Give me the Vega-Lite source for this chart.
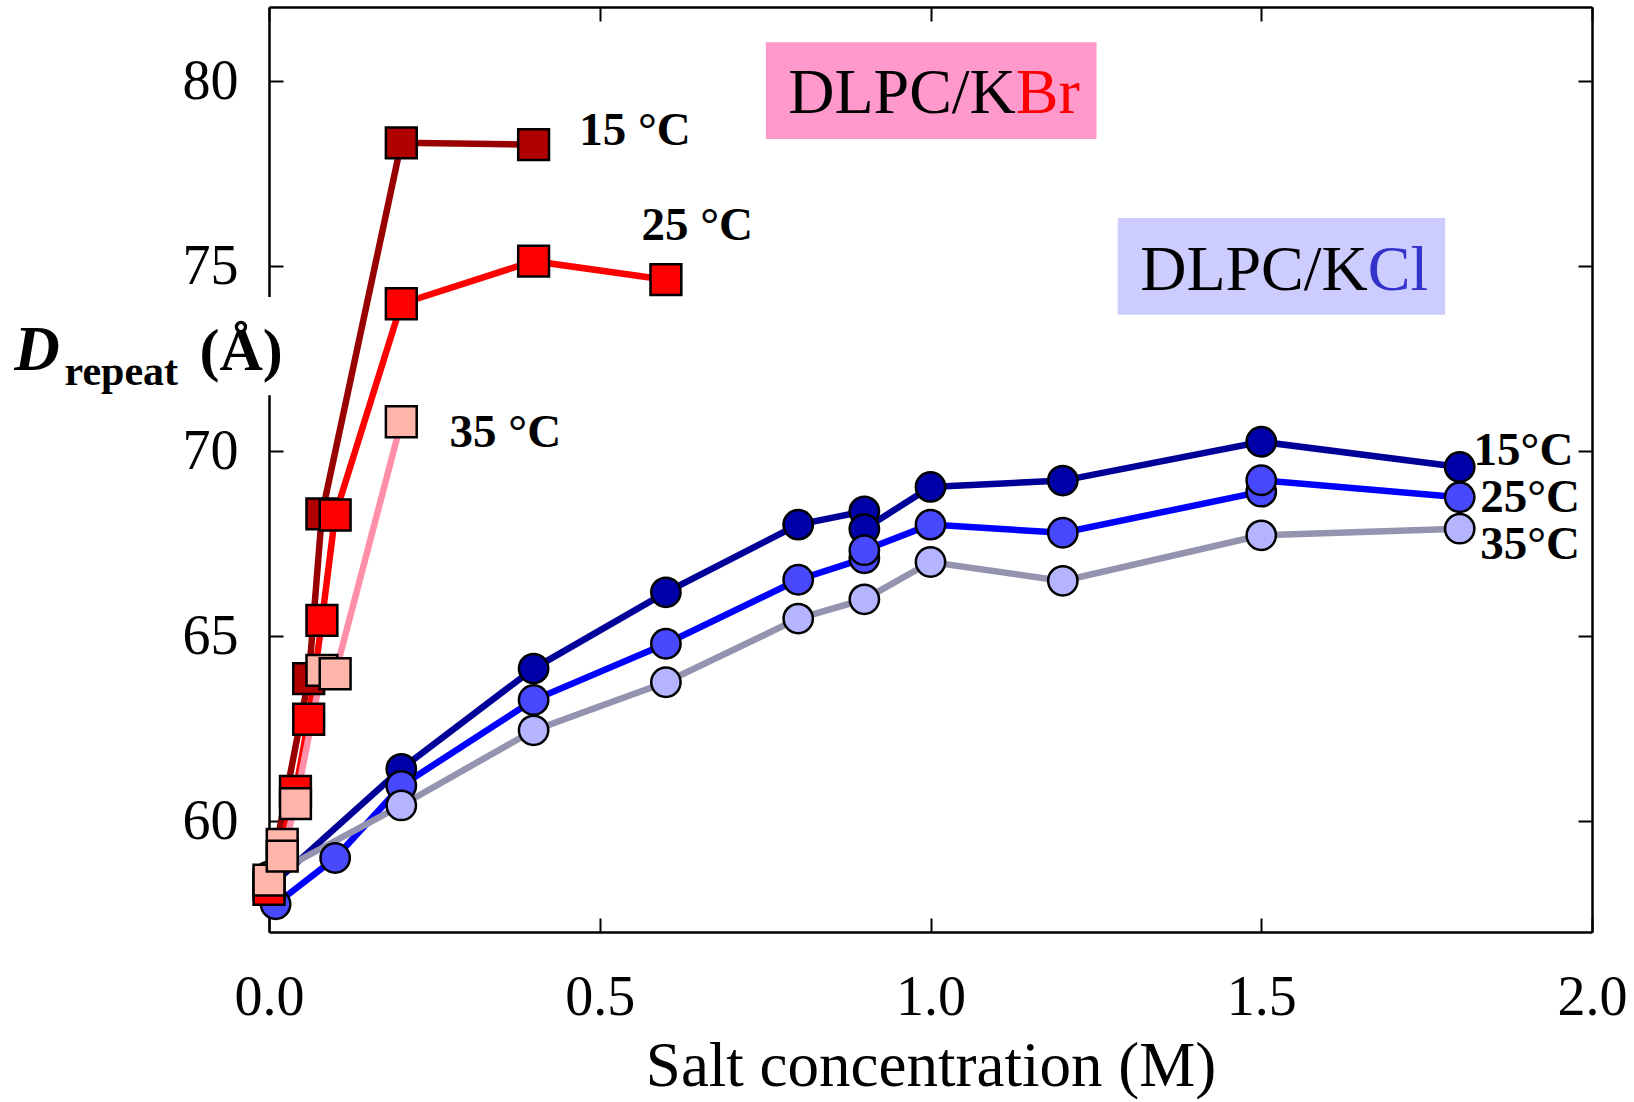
{
  "$schema": "https://vega.github.io/schema/vega-lite/v6.json",
  "width": 1323,
  "height": 925,
  "autosize": {"type": "none"},
  "padding": {"left": 269, "top": 7, "right": 42, "bottom": 170},
  "background": "white",
  "config": {
    "view": {"stroke": null},
    "font": "Liberation Serif",
    "axis": {
      "grid": false,
      "domainColor": "black",
      "domainWidth": 2.5,
      "tickColor": "black",
      "tickWidth": 2,
      "labelFont": "Liberation Serif",
      "labelColor": "black",
      "labelFlush": false,
      "labelOverlap": false,
      "titleFont": "Liberation Serif",
      "titleColor": "black"
    }
  },
  "datasets": {
    "repeat": [
      {"salt": "KCl", "series": "KCl 15 °C", "i": 1, "conc": 0.0, "d": 58.2},
      {"salt": "KCl", "series": "KCl 15 °C", "i": 2, "conc": 0.2, "d": 61.41},
      {"salt": "KCl", "series": "KCl 15 °C", "i": 3, "conc": 0.4, "d": 64.12},
      {"salt": "KCl", "series": "KCl 15 °C", "i": 4, "conc": 0.6, "d": 66.18},
      {"salt": "KCl", "series": "KCl 15 °C", "i": 5, "conc": 0.8, "d": 68.01},
      {"salt": "KCl", "series": "KCl 15 °C", "i": 6, "conc": 0.9, "d": 68.37},
      {"salt": "KCl", "series": "KCl 15 °C", "i": 7, "conc": 0.9, "d": 67.89},
      {"salt": "KCl", "series": "KCl 15 °C", "i": 8, "conc": 1.0, "d": 69.03},
      {"salt": "KCl", "series": "KCl 15 °C", "i": 9, "conc": 1.2, "d": 69.2},
      {"salt": "KCl", "series": "KCl 15 °C", "i": 10, "conc": 1.5, "d": 70.25},
      {"salt": "KCl", "series": "KCl 15 °C", "i": 11, "conc": 1.8, "d": 69.57},

      {"salt": "KCl", "series": "KCl 25 °C", "i": 1, "conc": 0.01, "d": 57.75},
      {"salt": "KCl", "series": "KCl 25 °C", "i": 2, "conc": 0.1, "d": 59.0},
      {"salt": "KCl", "series": "KCl 25 °C", "i": 3, "conc": 0.2, "d": 60.95},
      {"salt": "KCl", "series": "KCl 25 °C", "i": 4, "conc": 0.4, "d": 63.27},
      {"salt": "KCl", "series": "KCl 25 °C", "i": 5, "conc": 0.6, "d": 64.79},
      {"salt": "KCl", "series": "KCl 25 °C", "i": 6, "conc": 0.8, "d": 66.52},
      {"salt": "KCl", "series": "KCl 25 °C", "i": 7, "conc": 0.9, "d": 67.1},
      {"salt": "KCl", "series": "KCl 25 °C", "i": 8, "conc": 0.9, "d": 67.32},
      {"salt": "KCl", "series": "KCl 25 °C", "i": 9, "conc": 1.0, "d": 68.01},
      {"salt": "KCl", "series": "KCl 25 °C", "i": 10, "conc": 1.2, "d": 67.79},
      {"salt": "KCl", "series": "KCl 25 °C", "i": 11, "conc": 1.5, "d": 68.9},
      {"salt": "KCl", "series": "KCl 25 °C", "i": 12, "conc": 1.5, "d": 69.21},
      {"salt": "KCl", "series": "KCl 25 °C", "i": 13, "conc": 1.8, "d": 68.75},

      {"salt": "KCl", "series": "KCl 35 °C", "i": 1, "conc": 0.0, "d": 58.5},
      {"salt": "KCl", "series": "KCl 35 °C", "i": 2, "conc": 0.2, "d": 60.42},
      {"salt": "KCl", "series": "KCl 35 °C", "i": 3, "conc": 0.4, "d": 62.45},
      {"salt": "KCl", "series": "KCl 35 °C", "i": 4, "conc": 0.6, "d": 63.75},
      {"salt": "KCl", "series": "KCl 35 °C", "i": 5, "conc": 0.8, "d": 65.47},
      {"salt": "KCl", "series": "KCl 35 °C", "i": 6, "conc": 0.9, "d": 65.99},
      {"salt": "KCl", "series": "KCl 35 °C", "i": 7, "conc": 1.0, "d": 67.0},
      {"salt": "KCl", "series": "KCl 35 °C", "i": 8, "conc": 1.2, "d": 66.49},
      {"salt": "KCl", "series": "KCl 35 °C", "i": 9, "conc": 1.5, "d": 67.72},
      {"salt": "KCl", "series": "KCl 35 °C", "i": 10, "conc": 1.8, "d": 67.9},

      {"salt": "KBr", "series": "KBr 15 °C", "i": 1, "conc": 0.0, "d": 58.3},
      {"salt": "KBr", "series": "KBr 15 °C", "i": 2, "conc": 0.06, "d": 63.85},
      {"salt": "KBr", "series": "KBr 15 °C", "i": 3, "conc": 0.08, "d": 68.3},
      {"salt": "KBr", "series": "KBr 15 °C", "i": 4, "conc": 0.2, "d": 78.33},
      {"salt": "KBr", "series": "KBr 15 °C", "i": 5, "conc": 0.4, "d": 78.28},

      {"salt": "KBr", "series": "KBr 25 °C", "i": 1, "conc": 0.0, "d": 58.15},
      {"salt": "KBr", "series": "KBr 25 °C", "i": 2, "conc": 0.04, "d": 60.8},
      {"salt": "KBr", "series": "KBr 25 °C", "i": 3, "conc": 0.06, "d": 62.75},
      {"salt": "KBr", "series": "KBr 25 °C", "i": 4, "conc": 0.08, "d": 65.42},
      {"salt": "KBr", "series": "KBr 25 °C", "i": 5, "conc": 0.1, "d": 68.27},
      {"salt": "KBr", "series": "KBr 25 °C", "i": 6, "conc": 0.2, "d": 73.98},
      {"salt": "KBr", "series": "KBr 25 °C", "i": 7, "conc": 0.4, "d": 75.13},
      {"salt": "KBr", "series": "KBr 25 °C", "i": 8, "conc": 0.6, "d": 74.63},

      {"salt": "KBr", "series": "KBr 35 °C", "i": 1, "conc": 0.0, "d": 58.4},
      {"salt": "KBr", "series": "KBr 35 °C", "i": 2, "conc": 0.02, "d": 59.37},
      {"salt": "KBr", "series": "KBr 35 °C", "i": 3, "conc": 0.02, "d": 59.05},
      {"salt": "KBr", "series": "KBr 35 °C", "i": 4, "conc": 0.04, "d": 60.47},
      {"salt": "KBr", "series": "KBr 35 °C", "i": 5, "conc": 0.08, "d": 64.07},
      {"salt": "KBr", "series": "KBr 35 °C", "i": 6, "conc": 0.1, "d": 63.98},
      {"salt": "KBr", "series": "KBr 35 °C", "i": 7, "conc": 0.2, "d": 70.79}
    ]
  },
  "layer": [
    {
      "data": {"name": "repeat"},
      "mark": {"type": "point", "opacity": 0},
      "encoding": {
        "x": {"field": "conc", "type": "quantitative",
              "scale": {"domain": [0, 2], "nice": false, "zero": false},
              "axis": {"orient": "top", "values": [0, 0.5, 1, 1.5, 2], "labels": false, "tickSize": -14, "title": null}},
        "y": {"field": "d", "type": "quantitative",
              "scale": {"domain": [57, 82], "nice": false, "zero": false},
              "axis": {"orient": "right", "values": [60, 65, 70, 75, 80], "labels": false, "tickSize": -14, "title": null}}
      }
    },
    {
      "data": {"values": [{"left": 0.751, "right": 1.251, "bottom": 78.43, "top": 81.05}]},
      "mark": {"type": "rect", "color": "#FF99CC"},
      "encoding": {
        "x": {"field": "left", "type": "quantitative", "scale": {"domain": [0, 2], "nice": false, "zero": false}, "axis": null},
        "x2": {"field": "right"},
        "y": {"field": "bottom", "type": "quantitative", "scale": {"domain": [57, 82], "nice": false, "zero": false}, "axis": null},
        "y2": {"field": "top"}
      }
    },
    {
      "data": {"values": [{"left": 1.283, "right": 1.778, "bottom": 73.68, "top": 76.3}]},
      "mark": {"type": "rect", "color": "#CCCCFF"},
      "encoding": {
        "x": {"field": "left", "type": "quantitative", "scale": {"domain": [0, 2], "nice": false, "zero": false}, "axis": null},
        "x2": {"field": "right"},
        "y": {"field": "bottom", "type": "quantitative", "scale": {"domain": [57, 82], "nice": false, "zero": false}, "axis": null},
        "y2": {"field": "top"}
      }
    },
    {
      "data": {"name": "repeat"},
      "transform": [{"filter": "datum.salt === 'KCl'"}],
      "mark": {"type": "line", "strokeWidth": 6.5},
      "encoding": {
        "x": {"field": "conc", "type": "quantitative",
              "scale": {"domain": [0, 2], "nice": false, "zero": false},
              "axis": {"orient": "bottom", "values": [0, 0.5, 1, 1.5, 2], "format": ".1f", "tickSize": -14,
                       "labelFontSize": 56, "labelPadding": 52,
                       "title": "Salt concentration (M)", "titleFontSize": 63, "titleFontWeight": "normal", "titlePadding": 10}},
        "y": {"field": "d", "type": "quantitative",
              "scale": {"domain": [57, 82], "nice": false, "zero": false},
              "axis": {"orient": "left", "values": [60, 65, 70, 75, 80], "format": "d", "tickSize": -14,
                       "labelFontSize": 56, "labelPadding": 45, "title": null}},
        "stroke": {"field": "series", "type": "nominal",
                   "scale": {"domain": ["KCl 15 °C", "KCl 25 °C", "KCl 35 °C", "KBr 15 °C", "KBr 25 °C", "KBr 35 °C"],
                             "range": ["#000099", "#0000FF", "#9494B0", "#990000", "#FF0000", "#FF8FA8"]},
                   "legend": null},
        "order": {"field": "i", "type": "quantitative"}
      }
    },
    {
      "data": {"name": "repeat"},
      "transform": [{"filter": "datum.salt === 'KCl'"}],
      "mark": {"type": "point", "shape": "circle", "size": 860, "filled": true, "stroke": "black", "strokeWidth": 2.5, "opacity": 1},
      "encoding": {
        "x": {"field": "conc", "type": "quantitative", "scale": {"domain": [0, 2], "nice": false, "zero": false}, "axis": null},
        "y": {"field": "d", "type": "quantitative", "scale": {"domain": [57, 82], "nice": false, "zero": false}, "axis": null},
        "fill": {"field": "series", "type": "nominal",
                 "scale": {"domain": ["KCl 15 °C", "KCl 25 °C", "KCl 35 °C", "KBr 15 °C", "KBr 25 °C", "KBr 35 °C"],
                           "range": ["#0000A8", "#4848FF", "#B4B4FF", "#B00000", "#FF0000", "#FFB5AA"]},
                 "legend": null}
      }
    },
    {
      "data": {"name": "repeat"},
      "transform": [{"filter": "datum.salt === 'KBr'"}],
      "mark": {"type": "line", "strokeWidth": 6.5},
      "encoding": {
        "x": {"field": "conc", "type": "quantitative", "scale": {"domain": [0, 2], "nice": false, "zero": false}, "axis": null},
        "y": {"field": "d", "type": "quantitative", "scale": {"domain": [57, 82], "nice": false, "zero": false}, "axis": null},
        "stroke": {"field": "series", "type": "nominal", "legend": null},
        "order": {"field": "i", "type": "quantitative"}
      }
    },
    {
      "data": {"name": "repeat"},
      "transform": [{"filter": "datum.salt === 'KBr'"}],
      "mark": {"type": "point", "shape": "square", "size": 950, "filled": true, "stroke": "black", "strokeWidth": 2.5, "opacity": 1},
      "encoding": {
        "x": {"field": "conc", "type": "quantitative", "scale": {"domain": [0, 2], "nice": false, "zero": false}, "axis": null},
        "y": {"field": "d", "type": "quantitative", "scale": {"domain": [57, 82], "nice": false, "zero": false}, "axis": null},
        "fill": {"field": "series", "type": "nominal", "legend": null}
      }
    },
    {
      "data": {"values": [
        {"t": "DLPC/K", "x": 1.129, "y": 79.14},
        {"t": "DLPC/K", "x": 1.661, "y": 74.35}
      ]},
      "mark": {"type": "text", "align": "right", "baseline": "alphabetic", "fontSize": 64, "font": "Liberation Serif", "color": "black"},
      "encoding": {
        "x": {"field": "x", "type": "quantitative", "scale": {"domain": [0, 2], "nice": false, "zero": false}, "axis": null},
        "y": {"field": "y", "type": "quantitative", "scale": {"domain": [57, 82], "nice": false, "zero": false}, "axis": null},
        "text": {"field": "t"}
      }
    },
    {
      "data": {"values": [{"t": "Br", "x": 1.129, "y": 79.14}]},
      "mark": {"type": "text", "align": "left", "baseline": "alphabetic", "fontSize": 64, "font": "Liberation Serif", "color": "#FF0000"},
      "encoding": {
        "x": {"field": "x", "type": "quantitative", "scale": {"domain": [0, 2], "nice": false, "zero": false}, "axis": null},
        "y": {"field": "y", "type": "quantitative", "scale": {"domain": [57, 82], "nice": false, "zero": false}, "axis": null},
        "text": {"field": "t"}
      }
    },
    {
      "data": {"values": [{"t": "Cl", "x": 1.661, "y": 74.35}]},
      "mark": {"type": "text", "align": "left", "baseline": "alphabetic", "fontSize": 64, "font": "Liberation Serif", "color": "#3333CC"},
      "encoding": {
        "x": {"field": "x", "type": "quantitative", "scale": {"domain": [0, 2], "nice": false, "zero": false}, "axis": null},
        "y": {"field": "y", "type": "quantitative", "scale": {"domain": [57, 82], "nice": false, "zero": false}, "axis": null},
        "text": {"field": "t"}
      }
    },
    {
      "data": {"values": [
        {"t": "15 °C", "x": 0.469, "y": 78.64},
        {"t": "25 °C", "x": 0.563, "y": 76.08},
        {"t": "35 °C", "x": 0.273, "y": 70.5},
        {"t": "15°C", "x": 1.821, "y": 70.0},
        {"t": "25°C", "x": 1.831, "y": 68.73},
        {"t": "35°C", "x": 1.831, "y": 67.46}
      ]},
      "mark": {"type": "text", "align": "left", "baseline": "middle", "fontSize": 47, "fontWeight": "bold", "font": "Liberation Serif", "color": "black"},
      "encoding": {
        "x": {"field": "x", "type": "quantitative", "scale": {"domain": [0, 2], "nice": false, "zero": false}, "axis": null},
        "y": {"field": "y", "type": "quantitative", "scale": {"domain": [57, 82], "nice": false, "zero": false}, "axis": null},
        "text": {"field": "t"}
      }
    },
    {
      "data": {"values": [{"left": -0.41, "right": 0.054, "bottom": 71.51, "top": 74.16}]},
      "mark": {"type": "rect", "color": "white"},
      "encoding": {
        "x": {"field": "left", "type": "quantitative", "scale": {"domain": [0, 2], "nice": false, "zero": false}, "axis": null},
        "x2": {"field": "right"},
        "y": {"field": "bottom", "type": "quantitative", "scale": {"domain": [57, 82], "nice": false, "zero": false}, "axis": null},
        "y2": {"field": "top"}
      }
    },
    {
      "data": {"values": [{"t": "D", "x": -0.385, "y": 72.19}]},
      "mark": {"type": "text", "align": "left", "baseline": "alphabetic", "fontSize": 63, "fontWeight": "bold", "fontStyle": "italic", "font": "Liberation Serif", "color": "black"},
      "encoding": {
        "x": {"field": "x", "type": "quantitative", "scale": {"domain": [0, 2], "nice": false, "zero": false}, "axis": null},
        "y": {"field": "y", "type": "quantitative", "scale": {"domain": [57, 82], "nice": false, "zero": false}, "axis": null},
        "text": {"field": "t"}
      }
    },
    {
      "data": {"values": [{"t": "repeat", "x": -0.309, "y": 71.78}]},
      "mark": {"type": "text", "align": "left", "baseline": "alphabetic", "fontSize": 42, "fontWeight": "bold", "font": "Liberation Serif", "color": "black"},
      "encoding": {
        "x": {"field": "x", "type": "quantitative", "scale": {"domain": [0, 2], "nice": false, "zero": false}, "axis": null},
        "y": {"field": "y", "type": "quantitative", "scale": {"domain": [57, 82], "nice": false, "zero": false}, "axis": null},
        "text": {"field": "t"}
      }
    },
    {
      "data": {"values": [{"t": "(Å)", "x": -0.105, "y": 72.19}]},
      "mark": {"type": "text", "align": "left", "baseline": "alphabetic", "fontSize": 60, "fontWeight": "bold", "font": "Liberation Serif", "color": "black"},
      "encoding": {
        "x": {"field": "x", "type": "quantitative", "scale": {"domain": [0, 2], "nice": false, "zero": false}, "axis": null},
        "y": {"field": "y", "type": "quantitative", "scale": {"domain": [57, 82], "nice": false, "zero": false}, "axis": null},
        "text": {"field": "t"}
      }
    }
  ],
  "resolve": {"axis": {"x": "independent", "y": "independent"}}
}
